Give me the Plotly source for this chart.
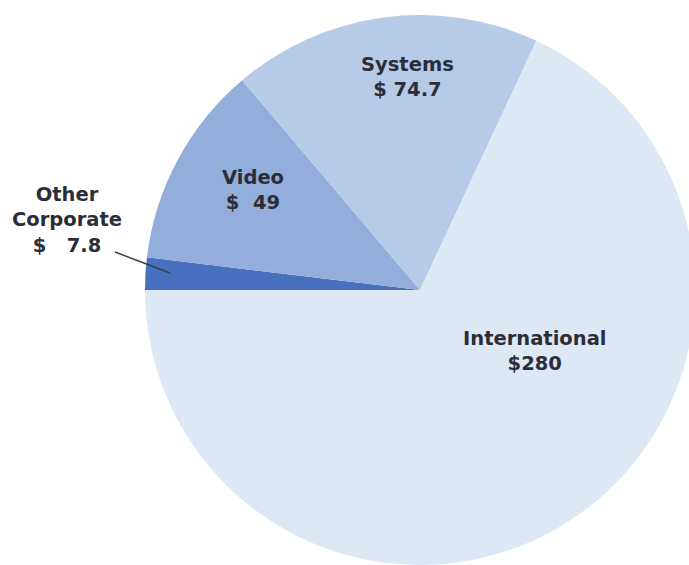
import plotly.graph_objects as go

# Data (listed in clockwise order starting from 9 o'clock)
categories = ["Other Corporate", "Video", "Systems", "International"]
values = [7.8, 49, 74.7, 280]
value_labels = ["$\u00a0\u00a0\u00a07.8", "$\u00a0\u00a049", "$\u00a074.7", "$280"]
label_names = ["Other<br>Corporate", "Video", "Systems", "International"]
colors = ["#4870be", "#93aedb", "#b6cbe7", "#dde8f5"]

W, H = 700, 565
cx, cy, r = 420, 290, 275

fig = go.Figure(go.Pie(
    labels=categories,
    values=values,
    sort=False,
    direction="clockwise",
    rotation=270,
    marker=dict(colors=colors, line=dict(width=0)),
    textinfo="none",
    hoverinfo="label+value",
    showlegend=False,
    domain=dict(x=[(cx - r) / W, (cx + r) / W], y=[(H - cy - r) / H, (H - cy + r) / H]),
))

# label anchor positions (pixels from top-left)
label_pos = [(67, 220), (253, 190), (407, 77), (534, 351)]
annos = []
for name, val, (px, py) in zip(label_names, value_labels, label_pos):
    annos.append(dict(
        x=px / W, y=1 - py / H, xref="paper", yref="paper",
        text=f"{name}<br>{val}", showarrow=False, align="center",
        xanchor="center", yanchor="middle",
        font=dict(family="DejaVu Sans", size=19.5, color="#2b2e38", weight="bold"),
    ))

fig.update_layout(
    width=W, height=H,
    margin=dict(l=0, r=0, t=0, b=0),
    paper_bgcolor="#ffffff",
    plot_bgcolor="#ffffff",
    annotations=annos,
    shapes=[dict(type="line", xref="paper", yref="paper",
                 x0=115 / W, y0=1 - 252 / H, x1=170 / W, y1=1 - 273 / H,
                 line=dict(color="#3a3d48", width=1.5))],
)

fig.write_html("out.html", config={"displayModeBar": False},
               post_script="document.documentElement.style.overflow='hidden';document.body.style.overflow='hidden';document.body.style.margin='0';")
